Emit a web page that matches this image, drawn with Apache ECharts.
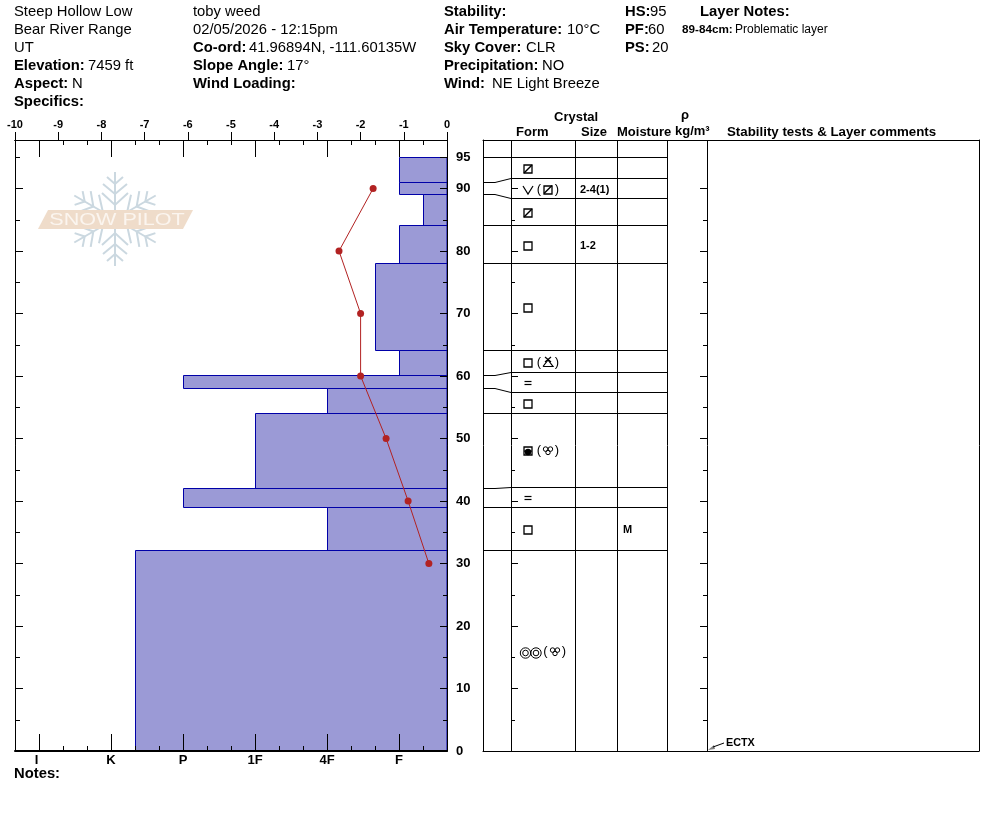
<!DOCTYPE html>
<html>
<head>
<meta charset="utf-8">
<title>Snow profile</title>
<style>html,body{margin:0;padding:0;background:#fff}#c{width:994px;height:840px}</style>
<script src="https://cdn.jsdelivr.net/npm/echarts@6/dist/echarts.min.js"></script>
</head>
<body>
<div id="c"></div>
<script>
// ---- data ----
var layerTops = [95, 91, 89, 84, 78, 64, 60, 58, 54, 42, 39, 32];
var layerBottoms = [91, 89, 84, 78, 64, 60, 58, 54, 42, 39, 32, 0];
// hardness on a scale of thirds: I=1 K=4 P=7 1F=10 4F=13 F=16
var layerHardness = [16, 16, 17, 16, 15, 16, 7, 13, 10, 7, 13, 5];
var tableRowTops = [95, 91.6, 88.4, 84, 78, 64, 60.6, 57.4, 54, 42.2, 39, 32];
var tableRowBottoms = [91.6, 88.4, 84, 78, 64, 60.6, 57.4, 54, 42.2, 39, 32, 0];
var primaryForms = ['boxslash', 'vee', 'boxslash', 'box', 'box', 'box', 'equal', 'box', 'cup', 'equal', 'box', 'rings'];
var secondaryForms = ['', 'boxslash', '', '', '', 'hoar', '', '', 'trefoil', '', '', 'trefoil'];
var crystalSizes = ['', '2-4(1)', '', '1-2', '', '', '', '', '', '', '', ''];
var moistures = ['', '', '', '', '', '', '', '', '', '', 'M', ''];
var tempDepths = [90, 80, 70, 60, 50, 40, 30];
var tempValues = [-1.71, -2.5, -2.0, -2.0, -1.41, -0.9, -0.42];
var tempTicks = [-10, -9, -8, -7, -6, -5, -4, -3, -2, -1, 0];
var hardnessLabels = ['I', 'K', 'P', '1F', '4F', 'F'];
var hardnessLabelValues = [0.9, 4, 7, 10, 13, 16];
var hardnessMajor = [1, 4, 7, 10, 13, 16];
var depthLabels = [0, 10, 20, 30, 40, 50, 60, 70, 80, 90, 95];
var depthMajor = [10, 20, 30, 40, 50, 60, 70, 80, 90];
var depthMinor = [5, 15, 25, 35, 45, 55, 65, 75, 85, 95];
var stabilityTests = [{ depth: 0, label: 'ECTX' }];

// header text: [x, y, text, bold, size]
var headerTexts = [
  [14, 12, 'Steep Hollow Low', 0], [14, 30, 'Bear River Range', 0], [14, 48, 'UT', 0],
  [14, 66, 'Elevation:', 1], [88, 66, '7459 ft', 0], [14, 84, 'Aspect:', 1], [72, 84, 'N', 0], [14, 102, 'Specifics:', 1],
  [193, 12, 'toby weed', 0], [193, 30, '02/05/2026 - 12:15pm', 0], [193, 48, 'Co-ord:', 1], [249, 48, '41.96894N, -111.60135W', 0],
  [193, 66, 'Slope Angle:', 1], [287, 66, '17°', 0], [193, 84, 'Wind Loading:', 1],
  [444, 12, 'Stability:', 1], [444, 30, 'Air Temperature:', 1], [567, 30, '10°C', 0], [444, 48, 'Sky Cover:', 1], [526, 48, 'CLR', 0],
  [444, 66, 'Precipitation:', 1], [542, 66, 'NO', 0], [444, 84, 'Wind:', 1], [492, 84, 'NE Light Breeze', 0],
  [625, 12, 'HS:', 1], [650, 12, '95', 0], [625, 30, 'PF:', 1], [648, 30, '60', 0], [625, 48, 'PS:', 1], [652, 48, '20', 0],
  [700, 12, 'Layer Notes:', 1], [682, 30, '89-84cm:', 1, 11.7], [735, 30, 'Problematic layer', 0, 12],
  [14, 774, 'Notes:', 1],
  [554, 117, 'Crystal', 1, 13], [516, 132, 'Form', 1, 13], [581, 132, 'Size', 1, 13], [617, 132, 'Moisture', 1, 13],
  [681, 115, 'ρ', 1, 13], [675, 131, 'kg/m³', 1, 13], [727, 132, 'Stability tests & Layer comments', 1, 13.3]
];

// ---- layout and styles ----
var FONT = '"Liberation Sans", Arial, sans-serif';
var INK = '#000';
var HEADER_SIZE = 14.8;
var columnEdges = [28, 92, 134, 184, 224];
var TABLE_W = 496, ROW_END = 184, SHOULDER = 12, FORM_COL = 28;
var Y_MAX = 97.76;
function font(size, bold) { return (bold ? 'bold ' : '') + size + 'px ' + FONT; }
function crisp(v) { return Math.floor(v) + 0.5; }
function crispY(v) { return Math.ceil(v) - 0.5; }

function tickAxis(dim, opt) {
  var a = {
    type: 'value', gridIndex: opt.grid, position: opt.pos, min: opt.min, max: opt.max, z: 5,
    axisLine: { show: opt.line !== false, onZero: false, lineStyle: { color: INK, width: opt.lineWidth || 1 } },
    axisTick: { show: !!opt.len, inside: !!opt.inside, length: opt.len || 0, lineStyle: { color: INK, width: 1 } },
    axisLabel: { show: false }, splitLine: { show: false }
  };
  if (opt.offset) a.offset = opt.offset;
  if (opt.interval) a.interval = opt.interval;
  if (opt.ticks) a.axisTick.customValues = opt.ticks;
  if (opt.label) a.axisLabel = opt.label;
  return a;
}

var xAxes = [
  // 0 temperature scale (top)
  tickAxis('x', { grid: 0, pos: 'top', min: -10, max: 0, interval: 1, len: 8,
    label: { show: true, margin: 10, fontFamily: FONT, fontWeight: 'bold', fontSize: 11, color: INK, customValues: tempTicks } }),
  // 1 hardness scale (bottom): carries bars and short ticks
  tickAxis('x', { grid: 0, pos: 'bottom', min: 0, max: 18, interval: 1, len: 5, inside: true, lineWidth: 2,
    label: { show: true, margin: 3, fontFamily: FONT, fontWeight: 'bold', fontSize: 13, color: INK, customValues: hardnessLabelValues,
      formatter: function (v) { return hardnessLabels[hardnessLabelValues.indexOf(v)]; } } }),
  tickAxis('x', { grid: 0, pos: 'bottom', min: 0, max: 18, len: 17, inside: true, line: false, ticks: hardnessMajor }),
  tickAxis('x', { grid: 0, pos: 'top', min: 0, max: 18, interval: 1, len: 5, inside: true }),
  tickAxis('x', { grid: 0, pos: 'top', min: 0, max: 18, len: 17, inside: true, ticks: hardnessMajor }),
  // 5-6 table box
  tickAxis('x', { grid: 1, pos: 'bottom', min: 0, max: TABLE_W }),
  tickAxis('x', { grid: 1, pos: 'top', min: 0, max: TABLE_W })
];
var yAxes = [
  tickAxis('y', { grid: 0, pos: 'left', min: 0, max: Y_MAX, len: 8, inside: true, ticks: depthMajor }),
  tickAxis('y', { grid: 0, pos: 'left', min: 0, max: Y_MAX, len: 5, inside: true, ticks: depthMinor }),
  tickAxis('y', { grid: 0, pos: 'right', min: 0, max: Y_MAX, len: 7, inside: true, ticks: depthMajor.concat([95]),
    label: { show: true, margin: 9, fontFamily: FONT, fontWeight: 'bold', fontSize: 13, color: INK, customValues: depthLabels } }),
  tickAxis('y', { grid: 0, pos: 'right', min: 0, max: Y_MAX, len: 4, inside: true, ticks: depthMinor.slice(0, 9) }),
  // 4-5 table box
  tickAxis('y', { grid: 1, pos: 'left', min: 0, max: Y_MAX }),
  tickAxis('y', { grid: 1, pos: 'right', min: 0, max: Y_MAX }),
  // 6-7 ticks on the form column edge
  tickAxis('y', { grid: 1, pos: 'left', offset: -FORM_COL, min: 0, max: Y_MAX, line: false, len: 7, inside: true, ticks: depthMajor }),
  tickAxis('y', { grid: 1, pos: 'left', offset: -FORM_COL, min: 0, max: Y_MAX, line: false, len: 4, inside: true, ticks: depthMinor.slice(0, 9) }),
  // 8-9 ticks on the density column edge
  tickAxis('y', { grid: 1, pos: 'left', offset: -224, min: 0, max: Y_MAX, line: false, len: 7, ticks: depthMajor }),
  tickAxis('y', { grid: 1, pos: 'left', offset: -224, min: 0, max: Y_MAX, line: false, len: 4, ticks: depthMinor.slice(0, 9) })
];

// ---- crystal form glyphs, drawn around (cx, cy) ----
function ln(points, w) {
  return { type: 'polyline', shape: { points: points }, style: { stroke: INK, fill: null, lineWidth: w || 1 } };
}
function ring(cx, cy, r, w) {
  return { type: 'circle', shape: { cx: cx, cy: cy, r: r }, style: { stroke: INK, fill: null, lineWidth: w || 1 } };
}
function square(cx, cy) {
  return { type: 'rect', shape: { x: Math.round(cx) - 4, y: Math.round(cy) - 4, width: 8, height: 8 },
    style: { stroke: INK, fill: '#fff', lineWidth: 1.3 } };
}
function glyph(name, cx, cy) {
  switch (name) {
    case 'box': return [square(cx, cy)];
    case 'boxslash': return [square(cx, cy), ln([[cx - 4, cy + 4], [cx + 4, cy - 4]], 1.5)];
    case 'vee': return [ln([[cx - 5, cy - 4], [cx, cy + 4], [cx + 5, cy - 4]], 1.2)];
    case 'equal': return [ln([[cx - 3.5, cy - 1.5], [cx + 3.5, cy - 1.5]], 1.2), ln([[cx - 3.5, cy + 1.5], [cx + 3.5, cy + 1.5]], 1.2)];
    case 'cup': return [square(cx, cy), { type: 'circle', shape: { cx: cx, cy: cy + 1, r: 3.2 }, style: { fill: INK } },
      { type: 'rect', shape: { x: cx - 4, y: cy - 0.5, width: 8, height: 1.2 }, style: { fill: INK } }];
    case 'rings': return [ring(cx - 2.5, cy + 1, 5.2), ring(cx - 2.5, cy + 1, 2.8), ring(cx + 8, cy + 1, 5.2), ring(cx + 8, cy + 1, 2.8)];
    case 'trefoil': return [ring(cx - 2.4, cy - 1.4, 2.3), ring(cx + 2.4, cy - 1.4, 2.3), ring(cx, cy + 2, 2.2)];
    case 'hoar': return [ln([[cx - 5, cy + 4], [cx, cy - 2.5], [cx + 5, cy + 4], [cx - 5, cy + 4]], 1.2), ln([[cx - 3, cy - 5.5], [cx + 3, cy - 0.5]], 1.2), ln([[cx + 3, cy - 5.5], [cx - 3, cy - 0.5]], 1.2)];
  }
  return [];
}
function paren(s, x, y) {
  return { type: 'text', style: { text: s, x: x, y: y, font: font(13, 0), fill: INK, textAlign: 'center', textVerticalAlign: 'middle' } };
}

// ---- series ----
var barData = layerTops.map(function (t, i) { return [layerHardness[i], t, layerBottoms[i]]; });
var rowData = layerTops.map(function (t, i) { return [t, tableRowTops[i]]; });
var cellData = layerTops.map(function (t, i) { return [(tableRowTops[i] + tableRowBottoms[i]) / 2, i]; });
var columnData = columnEdges.map(function (x) { return [x]; });

var series = [
  { type: 'custom', name: 'hardness', xAxisIndex: 1, yAxisIndex: 0, z: 2, silent: true, clip: false,
    data: barData, encode: { x: 0, y: [1, 2] },
    renderItem: function (p, api) {
      var a = api.coord([api.value(0), api.value(1)]);
      var b = api.coord([18, api.value(2)]);
      var x0 = crisp(a[0]), y0 = crispY(a[1]), y1 = crispY(b[1]);
      return { type: 'rect', shape: { x: x0, y: y0, width: b[0] - x0, height: y1 - y0 },
        style: { fill: '#9b9ad6', stroke: '#0000a8', lineWidth: 1 } };
    } },
  { type: 'line', name: 'temperature', xAxisIndex: 0, yAxisIndex: 0, z: 6, silent: true, animation: false,
    data: tempValues.map(function (v, i) { return [v, tempDepths[i]]; }),
    symbol: 'circle', symbolSize: 7, showSymbol: true,
    lineStyle: { color: '#b22222', width: 1 }, itemStyle: { color: '#b22222' } },
  { type: 'custom', name: 'columns', xAxisIndex: 5, yAxisIndex: 4, z: 3, silent: true, clip: false,
    data: columnData, encode: { x: 0 },
    renderItem: function (p, api) {
      var t = api.coord([api.value(0), Y_MAX]), b = api.coord([api.value(0), 0]);
      var x = crisp(t[0]);
      return ln([[x, t[1]], [x, b[1]]]);
    } },
  { type: 'custom', name: 'rows', xAxisIndex: 5, yAxisIndex: 4, z: 3, silent: true, clip: false,
    data: rowData, encode: { y: [0, 1] },
    renderItem: function (p, api) {
      var real = api.coord([0, api.value(0)]), row = api.coord([ROW_END, api.value(1)]);
      var yr = crispY(real[1]), yt = crispY(row[1]);
      return ln([[real[0], yr], [real[0] + SHOULDER, yr], [real[0] + FORM_COL, yt], [row[0], yt]]);
    } },
  { type: 'custom', name: 'cells', xAxisIndex: 5, yAxisIndex: 4, z: 4, silent: true, clip: false,
    data: cellData, encode: { y: 0 },
    renderItem: function (p, api) {
      var i = api.value(1);
      var c = api.coord([45, api.value(0)]);
      var cx = c[0], cy = Math.round(c[1]) + 1;
      var kids = glyph(primaryForms[i], cx, cy);
      var sec = secondaryForms[i];
      if (sec) {
        var shift = primaryForms[i] === 'rings' ? 7 : 0;
        kids.push(paren('(', cx + 11 + shift * 0.9, cy - 1));
        kids = kids.concat(glyph(sec, cx + 20 + shift, cy - 0.5));
        kids.push(paren(')', cx + 29 + shift, cy - 1));
      }
      var mid = api.coord([0, api.value(0)])[0];
      if (crystalSizes[i]) kids.push({ type: 'text', style: { text: crystalSizes[i], x: mid + 97, y: cy, font: font(11, 1), fill: INK, textVerticalAlign: 'middle' } });
      if (moistures[i]) kids.push({ type: 'text', style: { text: moistures[i], x: mid + 140, y: cy, font: font(11, 1), fill: INK, textVerticalAlign: 'middle' } });
      return { type: 'group', children: kids };
    } },
  { type: 'custom', name: 'tests', xAxisIndex: 5, yAxisIndex: 4, z: 4, silent: true, clip: false,
    data: stabilityTests.map(function (t) { return [t.depth]; }), encode: { y: 0 },
    renderItem: function (p, api) {
      var c = api.coord([224, api.value(0)]), x = c[0], y = c[1];
      return { type: 'group', children: [
        { type: 'polygon', shape: { points: [[x + 1, y - 1], [x + 7, y - 6], [x + 8, y - 2]] }, style: { fill: '#808080' } },
        ln([[x + 6, y - 4], [x + 17, y - 8]]),
        { type: 'text', style: { text: stabilityTests[p.dataIndex].label, x: x + 19, y: y - 8, font: font(10.8, 1), fill: INK, textVerticalAlign: 'middle' } }
      ] };
    } }
];

// ---- text and watermark ----
var graphics = headerTexts.map(function (t) {
  return { type: 'text', silent: true, x: t[0], y: t[1],
    style: { text: t[2], font: font(t[4] || HEADER_SIZE, t[3]), fill: '#000', textVerticalAlign: 'middle' } };
});
var FLAKE = '#cbd8e0';
var armPaths = [
  [[0, 0], [0, -47]],
  [[-8, -42], [0, -35], [8, -42]],
  [[-12, -35], [0, -25], [12, -35]],
  [[-13, -26], [0, -14], [13, -26]]
];
for (var k = 0; k < 6; k++) {
  armPaths.forEach(function (pts, n) {
    graphics.push({ type: 'polyline', silent: true, x: 115, y: 219, rotation: k * Math.PI / 3,
      shape: { points: pts }, style: { stroke: FLAKE, lineWidth: 2, fill: null } });
  });
}
graphics.push({ type: 'polygon', silent: true, shape: { points: [[48, 210], [193, 210], [183, 229], [38, 229]] }, style: { fill: '#efdcca' } });
graphics.push({ type: 'text', silent: true, x: 117, y: 220, scaleX: 1.27,
  style: { text: 'SNOW PILOT', font: font(17, 0), fill: '#fbf5ef', textAlign: 'center', textVerticalAlign: 'middle' } });

var chart = echarts.init(document.getElementById('c'), null, { renderer: 'canvas', width: 994, height: 840 });
chart.setOption({
  animation: false,
  backgroundColor: '#fff',
  tooltip: { show: false },
  grid: [
    { left: 15, top: 140, width: 432, height: 611, containLabel: false },
    { left: 483, top: 140, width: TABLE_W, height: 611, containLabel: false }
  ],
  xAxis: xAxes,
  yAxis: yAxes,
  series: series,
  graphic: { elements: graphics }
});
</script>
</body>
</html>
